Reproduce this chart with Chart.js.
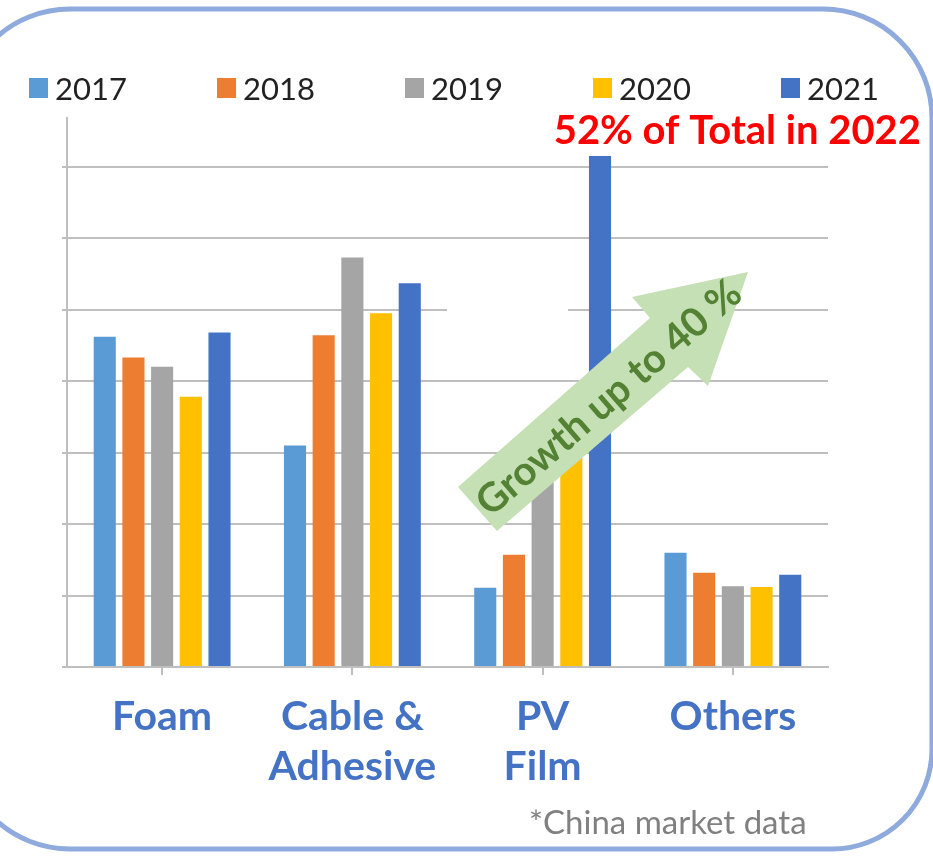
<!DOCTYPE html>
<html><head><meta charset="utf-8">
<script src="https://cdn.jsdelivr.net/npm/chart.js@4"></script>
<style>
html,body{margin:0;padding:0;background:#fff;}
#wrap{position:relative;width:933px;height:860px;overflow:hidden;}
#c{position:absolute;left:0;top:0;}
#legend{position:absolute;left:29px;top:70px;display:flex;}
.item{width:188px;display:flex;align-items:center;font-family:Lato,sans-serif;font-size:31px;color:#222;line-height:36px;}
.sw{width:19px;height:20px;margin-right:7px;}
</style></head><body>
<div id="wrap"><canvas id="c" width="933" height="860"></canvas><div id="legend"></div></div>
<script>
const categories = ['Foam', ['Cable &', 'Adhesive'], ['PV', 'Film'], 'Others'];
const years = ['2017', '2018', '2019', '2020', '2021'];
const yearColors = ['#5B9BD5', '#ED7D31', '#A5A5A5', '#FFC000', '#4472C4'];
const v2017 = [4.62, 3.10, 1.11, 1.60];
const v2018 = [4.33, 4.64, 1.57, 1.32];
const v2019 = [4.20, 5.73, 2.60, 1.13];
const v2020 = [3.78, 4.95, 3.50, 1.12];
const v2021 = [4.68, 5.37, 7.15, 1.29];
const yGridValues = [0, 1, 2, 3, 4, 5, 6, 7];
const headline = '52% of Total in 2022';
const arrowText = 'Growth up to 40 %';
const footnote = '*China market data';

const seriesValues = [v2017, v2018, v2019, v2020, v2021];

// HTML legend
const lg = document.getElementById('legend');
years.forEach((y, i) => {
  const it = document.createElement('div'); it.className = 'item';
  const sw = document.createElement('div'); sw.className = 'sw'; sw.style.background = yearColors[i];
  const t = document.createElement('span'); t.textContent = y;
  it.appendChild(sw); it.appendChild(t); lg.appendChild(it);
});

const decor = {
  id: 'decor',
  beforeDatasetsDraw(chart) {
    const ctx = chart.ctx, y = chart.scales.y;
    const py = y.getPixelForValue(5);
    ctx.save();
    ctx.fillStyle = '#fff';
    ctx.fillRect(447, py - 3, 121, 6);
    ctx.restore();
  },
  afterDraw(chart) {
    const ctx = chart.ctx;
    ctx.save();
    // rounded frame
    ctx.strokeStyle = '#8FAADC';
    ctx.lineWidth = 5;
    ctx.beginPath();
    ctx.roundRect(-40, 9, 972, 840, [110, 109, 100, 110]);
    ctx.stroke();
    // headline
    ctx.fillStyle = '#FF0000';
    ctx.font = 'bold 40px Lato';
    ctx.textAlign = 'right';
    ctx.textBaseline = 'alphabetic';
    ctx.fillText(headline, 921, 144);
    // footnote
    ctx.fillStyle = '#808080';
    ctx.font = '33px Lato';
    ctx.textAlign = 'left';
    ctx.fillText(footnote, 529, 834);
    // arrow
    ctx.fillStyle = '#C5E0B4';
    ctx.beginPath();
    const pts = [[458,487],[497,531],[688,367],[708,386],[748,272],[632,297],[650,318]];
    ctx.moveTo(pts[0][0], pts[0][1]);
    for (let i = 1; i < pts.length; i++) ctx.lineTo(pts[i][0], pts[i][1]);
    ctx.closePath();
    ctx.fill();
    ctx.translate(609, 398);
    ctx.rotate(-41 * Math.PI / 180);
    ctx.fillStyle = '#548235';
    ctx.font = 'bold 40px Lato';
    ctx.textAlign = 'center';
    ctx.textBaseline = 'middle';
    ctx.fillText(arrowText, 0, 0);
    ctx.restore();
  }
};

new Chart(document.getElementById('c'), {
  type: 'bar',
  data: {
    labels: categories,
    datasets: years.map((y, i) => ({
      label: y,
      data: seriesValues[i],
      backgroundColor: yearColors[i],
      borderWidth: 0,
      categoryPercentage: 0.754,
      barPercentage: 0.77
    }))
  },
  options: {
    responsive: false,
    animation: false,
    devicePixelRatio: 1,
    layout: { padding: { left: 0, right: 105, top: 118, bottom: 0 } },
    plugins: { legend: { display: false }, tooltip: { enabled: false } },
    scales: {
      x: {
        grid: { display: true, drawOnChartArea: false, drawTicks: true, tickLength: 8, offset: false, color: '#BFBFBF', lineWidth: 2 },
        border: { display: true, color: '#BFBFBF', width: 2 },
        ticks: {
          color: '#4472C4', font: { family: 'Lato', size: 41, weight: 'bold', lineHeight: 1.24 },
          padding: 16, maxRotation: 0, autoSkip: false
        },
        afterFit(s) { s.height = 193; }
      },
      y: {
        min: 0, max: 7.68,
        afterBuildTicks(s) { s.ticks = yGridValues.map(v => ({ value: v })); },
        grid: { color: '#BFBFBF', lineWidth: 2, drawTicks: true, tickLength: 5 },
        border: { display: true, color: '#BFBFBF', width: 2 },
        ticks: { display: false },
        afterFit(s) { s.width = 67; }
      }
    }
  },
  plugins: [decor]
});
</script>
</body></html>
